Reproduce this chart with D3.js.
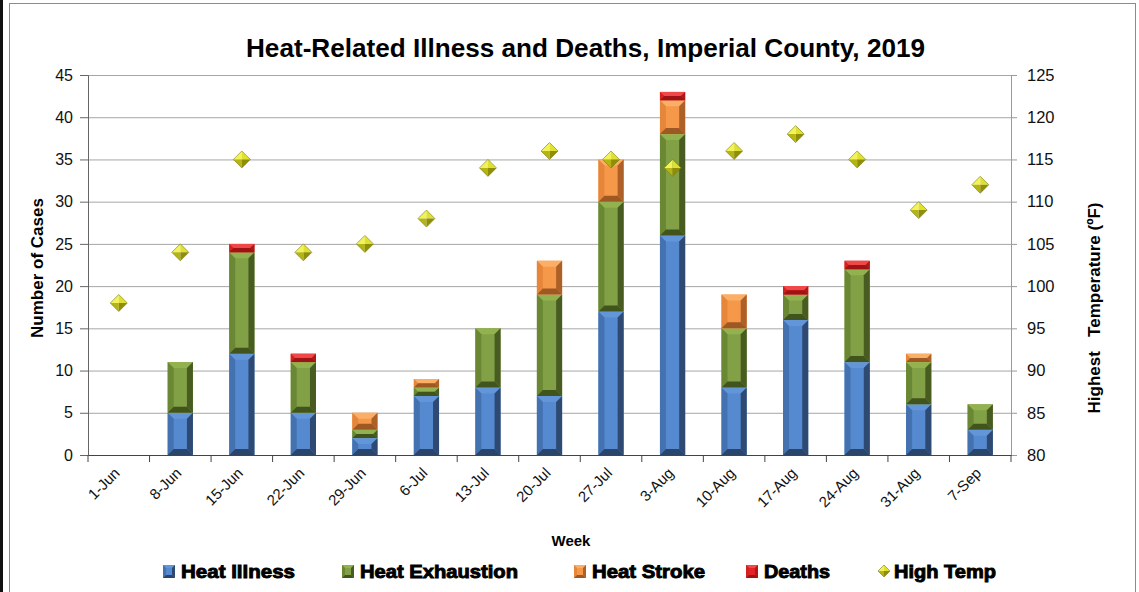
<!DOCTYPE html>
<html>
<head>
<meta charset="utf-8">
<script src="https://cdn.jsdelivr.net/npm/d3@7"></script>
<style>
  body { margin: 0; background: #fff; }
  svg { display: block; font-family: "Liberation Sans", Arial, sans-serif; }
</style>
</head>
<body>
<script>
// weekly counts
const weeks = ["1-Jun", "8-Jun", "15-Jun", "22-Jun", "29-Jun", "6-Jul", "13-Jul", "20-Jul",
  "27-Jul", "3-Aug", "10-Aug", "17-Aug", "24-Aug", "31-Aug", "7-Sep"];
const heatIllness    = [0, 5, 12, 5, 2, 7, 8, 7, 17, 26, 8, 16, 11, 6, 3];
const heatExhaustion = [0, 6, 12, 6, 1, 1, 7, 12, 13, 12, 7, 3, 11, 5, 3];
const heatStroke     = [0, 0, 0, 0, 2, 1, 0, 4, 5, 4, 4, 0, 0, 1, 0];
const deaths         = [0, 0, 1, 1, 0, 0, 0, 0, 0, 1, 0, 1, 1, 0, 0];
const highTemp       = [98, 104, 115, 104, 105, 108, 114, 116, 115, 114, 116, 118, 115, 109, 112];
const caseTicks = [0, 5, 10, 15, 20, 25, 30, 35, 40, 45];
const tempTicks = [80, 85, 90, 95, 100, 105, 110, 115, 120, 125];

const seriesNames = ["Heat Illness", "Heat Exhaustion", "Heat Stroke", "Deaths"];
const seriesValues = [heatIllness, heatExhaustion, heatStroke, deaths];

// bevel shades: [top, left, center, right, bottom]
const shades = [
  ["#6396d8", "#4472b0", "#558ad0", "#2e4a72", "#2a446a"],
  ["#92b250", "#6a8834", "#82a046", "#485c22", "#42541e"],
  ["#fbae66", "#e6863a", "#f5984a", "#ad6028", "#9e5824"],
  ["#f04848", "#d62020", "#e42424", "#ae1818", "#9e1414"]
];

const W = 1139, H = 592;
const margin = { top: 75, left: 88, right: 128, bottom: 137 };
const plotW = W - margin.left - margin.right;
const plotH = H - margin.top - margin.bottom;

const svg = d3.select("body").append("svg")
  .attr("width", W).attr("height", H);

// frame
svg.append("rect").attr("x", 9.5).attr("y", 3.5).attr("width", 1126).attr("height", 600)
  .attr("fill", "none").attr("stroke", "#8c8c8c").attr("stroke-width", 1);
svg.append("rect").attr("x", 0).attr("y", 0).attr("width", 3).attr("height", H).attr("fill", "#111");

svg.append("text")
  .attr("x", 246).attr("y", 57)
  .attr("font-size", 26).attr("font-weight", "bold")
  .attr("textLength", 679).attr("lengthAdjust", "spacingAndGlyphs")
  .text("Heat-Related Illness and Deaths, Imperial County, 2019");

const g = svg.append("g").attr("transform", `translate(${margin.left},${margin.top})`);

const x = d3.scaleBand().domain(weeks).range([0, plotW]);
const y = d3.scaleLinear().domain([0, 45]).range([plotH, 0]);
const yT = d3.scaleLinear().domain([80, 125]).range([plotH, 0]);

// gridlines
g.append("g")
  .call(d3.axisLeft(y).tickValues(caseTicks.slice(1)).tickSize(-plotW).tickFormat(""))
  .call(s => s.select(".domain").remove())
  .call(s => s.selectAll("line").attr("stroke", "#a6a6a6"));

// left axis
const yAxis = g.append("g")
  .call(d3.axisLeft(y).tickValues(caseTicks).tickSize(8).tickPadding(7));
yAxis.select(".domain").attr("stroke", "#666");
yAxis.selectAll("line").attr("stroke", "#666");
yAxis.selectAll("text").attr("font-size", 16).attr("fill", "#111")
  .attr("font-family", "Liberation Sans, Arial, sans-serif");

// right axis
const tAxis = g.append("g").attr("transform", `translate(${plotW},0)`)
  .call(d3.axisRight(yT).tickValues(tempTicks).tickSize(6).tickPadding(10));
tAxis.select(".domain").attr("stroke", "#999");
tAxis.selectAll("line").attr("stroke", "#999");
tAxis.selectAll("text").attr("font-size", 16.5).attr("fill", "#111")
  .attr("font-family", "Liberation Sans, Arial, sans-serif");

// stacked bars
const rows = weeks.map((w, i) => {
  const r = { week: w };
  seriesNames.forEach((s, k) => r[s] = seriesValues[k][i]);
  return r;
});
const stacked = d3.stack().keys(seriesNames)(rows);

function bevel(sel, x0, y0, w, h, c, bMax) {
  if (h <= 0) return;
  const x1 = x0 + w, y1 = y0 + h;
  const b = Math.min(bMax, h / 2, w / 2);
  sel.append("rect").attr("x", x0).attr("y", y0).attr("width", w).attr("height", h).attr("fill", c[2]);
  const poly = (pts, f) => sel.append("polygon").attr("points", pts.map(p => p.join(",")).join(" ")).attr("fill", f);
  poly([[x0, y0], [x1, y0], [x1 - b, y0 + b], [x0 + b, y0 + b]], c[0]);
  poly([[x0, y0], [x0 + b, y0 + b], [x0 + b, y1 - b], [x0, y1]], c[1]);
  poly([[x1, y0], [x1, y1], [x1 - b, y1 - b], [x1 - b, y0 + b]], c[3]);
  poly([[x0, y1], [x0 + b, y1 - b], [x1 - b, y1 - b], [x1, y1]], c[4]);
}

const barW = x.bandwidth() * 0.41;
const bars = g.append("g");
stacked.forEach((layer, k) => {
  layer.forEach(d => {
    const top = y(d[1]), bot = y(d[0]);
    const x0 = x(d.data.week) + (x.bandwidth() - barW) / 2;
    bevel(bars.append("g"), x0, top, barW, bot - top, shades[k], 6);
  });
});

// bottom axis
const xAxis = g.append("g").attr("transform", `translate(0,${plotH})`)
  .call(d3.axisBottom(x).tickSize(0));
xAxis.select(".domain").attr("stroke", "#444");
xAxis.selectAll("text")
  .attr("x", 0).attr("y", 0).attr("dy", 0)
  .attr("font-size", 15).attr("fill", "#111")
  .attr("font-family", "Liberation Sans, Arial, sans-serif")
  .attr("text-anchor", "end")
  .attr("transform", "translate(2,19) rotate(-45)");
// tick marks at category boundaries
g.append("g").selectAll("line").data(weeks.concat([null]))
  .join("line")
  .attr("x1", (d, i) => i * x.step()).attr("x2", (d, i) => i * x.step())
  .attr("y1", plotH).attr("y2", plotH + 7)
  .attr("stroke", "#444");

// diamond markers
function diamond(sel, cx, cy, r) {
  const t = [cx, cy - r], rr = [cx + r, cy], bt = [cx, cy + r], l = [cx - r, cy], c = [cx, cy];
  const poly = (pts, f) => sel.append("polygon").attr("points", pts.map(p => p.join(",")).join(" ")).attr("fill", f);
  poly([l, t, c], "#f2f25a");
  poly([t, rr, c], "#e0e030");
  poly([l, bt, c], "#b4b414");
  poly([rr, bt, c], "#8e8e08");
  poly([l, t, rr, bt], "none").attr("stroke", "#7a7a10").attr("stroke-width", 0.6);
}
const marks = g.append("g");
highTemp.forEach((t, i) => {
  diamond(marks, x(weeks[i]) + x.bandwidth() / 2, yT(t), 8.5);
});

// axis titles
svg.append("text")
  .attr("transform", "translate(43,268) rotate(-90)")
  .attr("text-anchor", "middle")
  .attr("font-size", 17).attr("font-weight", "bold")
  .text("Number of Cases");
svg.append("text")
  .attr("transform", "translate(1100,308) rotate(-90)")
  .attr("text-anchor", "middle")
  .attr("font-size", 17).attr("font-weight", "bold")
  .attr("xml:space", "preserve")
  .text("Highest   Temperature (\u00baF)");
svg.append("text")
  .attr("x", 571).attr("y", 546)
  .attr("text-anchor", "middle")
  .attr("font-size", 15).attr("font-weight", "bold")
  .text("Week");

// legend
const legendX = [163, 342, 574, 746];
const legendLen = [114, 158, 113, 66];
const leg = svg.append("g");
seriesNames.forEach((s, k) => {
  bevel(leg.append("g"), legendX[k], 565, 12, 13, shades[k], 3);
  leg.append("text")
    .attr("x", legendX[k] + 18).attr("y", 578)
    .attr("font-size", 18).attr("font-weight", "bold")
    .attr("stroke", "#000").attr("stroke-width", 0.9)
    .attr("textLength", legendLen[k]).attr("lengthAdjust", "spacingAndGlyphs")
    .text(s);
});
diamond(leg, 884, 571, 6);
leg.append("text")
  .attr("x", 894).attr("y", 578)
  .attr("font-size", 18).attr("font-weight", "bold")
  .attr("stroke", "#000").attr("stroke-width", 0.9)
  .attr("textLength", 102).attr("lengthAdjust", "spacingAndGlyphs")
  .text("High Temp");
</script>
</body>
</html>
